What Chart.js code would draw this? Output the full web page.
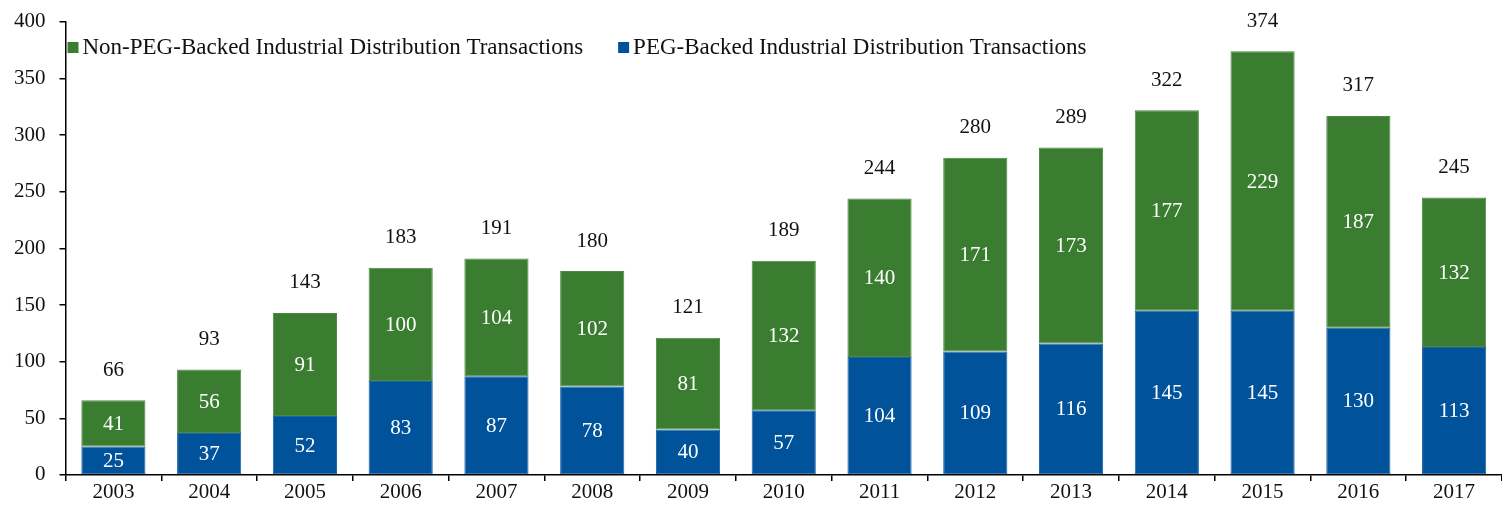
<!DOCTYPE html>
<html>
<head>
<meta charset="utf-8">
<script src="https://cdn.jsdelivr.net/npm/chart.js@4/dist/chart.umd.min.js"></script>
<style>
  html, body { margin: 0; padding: 0; background: #fff; }
  #wrap { width: 1502px; height: 512px; }
</style>
</head>
<body>
<div id="wrap"><canvas id="myChart"></canvas></div>
<script>
const years = ['2003', '2004', '2005', '2006', '2007', '2008', '2009', '2010', '2011', '2012', '2013', '2014', '2015', '2016', '2017'];
const pegBacked = [25, 37, 52, 83, 87, 78, 40, 57, 104, 109, 116, 145, 145, 130, 113];
const nonPegBacked = [41, 56, 91, 100, 104, 102, 81, 132, 140, 171, 173, 177, 229, 187, 132];
const totals = [66, 93, 143, 183, 191, 180, 121, 189, 244, 280, 289, 322, 374, 317, 245];
const yTicks = [0, 50, 100, 150, 200, 250, 300, 350, 400];

const fontFamily = 'Liberation Serif';
const green = '#3a7d30';
const blue = '#00529a';

// white numbers inside each segment and the total above each bar
const barLabels = {
    id: 'barLabels',
    afterDatasetsDraw(chart) {
        const ctx = chart.ctx;
        ctx.save();
        ctx.textAlign = 'center';
        ctx.textBaseline = 'middle';
        ctx.font = '21px ' + fontFamily;
        chart.data.datasets.forEach((ds, i) => {
            const meta = chart.getDatasetMeta(i);
            meta.data.forEach((bar, j) => {
                ctx.fillStyle = '#fff';
                ctx.fillText(ds.data[j], bar.x, (bar.y + bar.base) / 2 + 1);
            });
        });
        const top = chart.getDatasetMeta(chart.data.datasets.length - 1);
        top.data.forEach((bar, j) => {
            ctx.fillStyle = '#111';
            ctx.fillText(totals[j], bar.x, bar.y - 30);
        });
        ctx.restore();
    }
};

// legend sits inside the plot, top left
const innerLegend = {
    id: 'innerLegend',
    afterDraw(chart) {
        const ctx = chart.ctx;
        const area = chart.chartArea;
        ctx.save();
        ctx.font = '23px ' + fontFamily;
        ctx.textBaseline = 'middle';
        let x = area.left + 2;
        const y = 47;
        chart.data.datasets.slice().reverse().forEach(ds => {
            ctx.fillStyle = ds.backgroundColor;
            ctx.fillRect(x, y - 5, 11, 11);
            ctx.fillStyle = '#111';
            ctx.fillText(ds.label, x + 15, y + 1);
            x += 15 + ctx.measureText(ds.label).width + 35;
        });
        ctx.restore();
    }
};

const ctx = document.getElementById('myChart').getContext('2d');
const myChart = new Chart(ctx, {
    type: 'bar',
    data: {
        labels: years,
        datasets: [{
            label: 'PEG-Backed Industrial Distribution Transactions',
            data: pegBacked,
            backgroundColor: blue,
            borderColor: '#1f63a3',
            borderWidth: 1,
            borderSkipped: false
        }, {
            label: 'Non-PEG-Backed Industrial Distribution Transactions',
            data: nonPegBacked,
            backgroundColor: green,
            borderColor: '#4c8a43',
            borderWidth: 1,
            borderSkipped: false
        }]
    },
    options: {
        responsive: true,
        maintainAspectRatio: false,
        animation: false,
        layout: {
            padding: { top: 2, left: 0, right: 0, bottom: 8 }
        },
        datasets: {
            bar: { categoryPercentage: 1, barPercentage: 0.67 }
        },
        plugins: {
            legend: { display: false },
            tooltip: { enabled: false }
        },
        scales: {
            x: {
                stacked: true,
                grid: { drawOnChartArea: false, color: '#000', tickLength: 6, lineWidth: 1.5 },
                border: { color: '#000', width: 1.5 },
                ticks: { color: '#111', font: { family: fontFamily, size: 21, lineHeight: 1.1 }, padding: 0 }
            },
            y: {
                stacked: true,
                min: 0,
                max: 400,
                afterBuildTicks(axis) {
                    axis.ticks = yTicks.map(v => ({ value: v }));
                },
                grid: { drawOnChartArea: false, color: '#000', tickLength: 6, lineWidth: 1.5 },
                border: { color: '#000', width: 1.5 },
                ticks: { color: '#111', font: { family: fontFamily, size: 21, lineHeight: 0.75 }, padding: 14 }
            }
        }
    },
    plugins: [barLabels, innerLegend]
});
</script>
</body>
</html>
